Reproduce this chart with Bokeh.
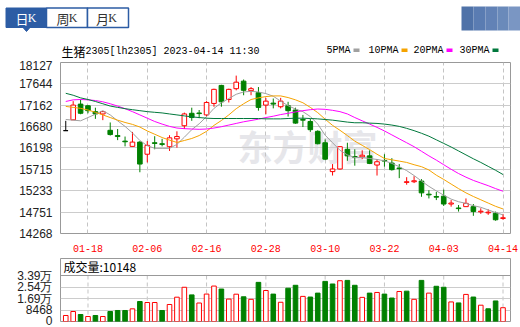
from bokeh.plotting import figure
from bokeh.models import Range1d, FixedTicker, Label, Span
from bokeh.layouts import column
from bokeh.embed import file_html
from bokeh.resources import INLINE
from bokeh.core.properties import value

# ---------------- data ----------------
dates = ["01-13", "01-16", "01-17", "01-18", "01-19", "01-20", "01-30", "01-31",
         "02-01", "02-02", "02-03", "02-06", "02-07", "02-08", "02-09", "02-10",
         "02-13", "02-14", "02-15", "02-16", "02-17", "02-20", "02-21", "02-22",
         "02-23", "02-24", "02-27", "02-28", "03-01", "03-02", "03-03", "03-06",
         "03-07", "03-08", "03-09", "03-10", "03-13", "03-14", "03-15", "03-16",
         "03-17", "03-20", "03-21", "03-22", "03-23", "03-24", "03-27", "03-28",
         "03-29", "03-30", "03-31", "04-03", "04-04", "04-06", "04-07", "04-10",
         "04-11", "04-12", "04-13", "04-14"]

opens = [16589, 16833, 17188, 17151, 17018, 16966, 16597, 16478, 16353, 16234,
         16331, 16057, 16316, 16294, 16227, 16404, 16700, 16981, 16988, 16944,
         17203, 17610, 17292, 17536, 17706, 17491, 17447, 17166, 17210, 17129,
         17151, 17055, 16841, 16796, 16574, 16316, 15665, 15724, 16168, 16005,
         15998, 16020, 15813, 15917, 15857, 15746, 15421, 15436, 15451, 15155,
         15103, 15111, 14933, 14844, 14874, 14874, 14756, 14734, 14726, 14608]
highs = [16811, 17255, 17292, 17166, 17107, 17033, 16774, 16626, 16456, 16560,
         16353, 16353, 16464, 16404, 16486, 16574, 16996, 17107, 17055, 17255,
         17536, 17624, 17536, 17831, 17743, 17573, 17573, 17329, 17314, 17329,
         17240, 17107, 16944, 16855, 16597, 16390, 15835, 16242, 16316, 16168,
         16146, 16146, 15946, 16057, 15968, 15835, 15539, 15562, 15495, 15244,
         15207, 15259, 15022, 14911, 15059, 14933, 14837, 14815, 14763, 14711]
lows = [16589, 16833, 16959, 16981, 16855, 16826, 16478, 16375, 16234, 16234,
        15650, 15872, 16168, 16234, 16131, 16205, 16626, 16811, 16870, 16907,
        17129, 17129, 17225, 17499, 17388, 17388, 17040, 16959, 17092, 17092,
        16907, 16745, 16671, 16560, 16279, 15924, 15576, 15709, 15909, 15798,
        15946, 15835, 15576, 15776, 15687, 15517, 15369, 15406, 15096, 15059,
        15022, 14889, 14874, 14763, 14867, 14667, 14711, 14689, 14556, 14578]
closes = [16589, 17166, 16981, 17040, 16966, 17018, 16501, 16456, 16338, 16331,
          15835, 16257, 16301, 16279, 16427, 16456, 16966, 16885, 16974, 17225,
          17521, 17240, 17521, 17683, 17499, 17536, 17114, 17255, 17188, 17255,
          17040, 16759, 16826, 16611, 16294, 15946, 15724, 16227, 16020, 15991,
          16035, 15850, 15887, 15902, 15709, 15732, 15436, 15458, 15185, 15140,
          15088, 14933, 14955, 14830, 14948, 14763, 14771, 14749, 14578, 14623]

ma5 = [16841, 16826, 16811, 16885, 16959, 17040, 16944, 16811, 16685, 16537,
       16367, 16249, 16190, 16190, 16190, 16279, 16441, 16611, 16744, 16907,
       17092, 17218, 17314, 17410, 17462, 17476, 17462, 17425, 17366, 17255,
       17151, 17077, 17018, 16907, 16737, 16486, 16316, 16146, 16042, 15983,
       15983, 15961, 15939, 15909, 15850, 15776, 15687, 15576, 15451, 15332,
       15229, 15133, 15044, 14985, 14948, 14896, 14859, 14800, 14741, 14689]
ma10 = [17136, 17114, 17092, 17055, 17003, 16944, 16885, 16826, 16774, 16730,
        16671, 16582, 16508, 16434, 16375, 16323, 16367, 16412, 16478, 16574,
        16708, 16818, 16944, 17085, 17196, 17292, 17329, 17358, 17373, 17373,
        17336, 17284, 17218, 17114, 16996, 16848, 16708, 16597, 16478, 16353,
        16257, 16161, 16057, 15961, 15931, 15902, 15872, 15820, 15776, 15702,
        15584, 15488, 15384, 15281, 15185, 15103, 15029, 14955, 14881, 14822]
ma20 = [17247, 17284, 17292, 17284, 17269, 17240, 17196, 17144, 17085, 17018,
        16944, 16870, 16796, 16737, 16685, 16648, 16634, 16626, 16619, 16626,
        16648, 16678, 16715, 16752, 16789, 16818, 16848, 16885, 16915, 16952,
        16981, 17011, 17040, 17062, 17077, 17070, 17048, 17018, 16966, 16885,
        16811, 16737, 16663, 16582, 16493, 16404, 16316, 16227, 16124, 16020,
        15924, 15820, 15717, 15621, 15539, 15466, 15406, 15347, 15281, 15222]
ma30 = [17432, 17388, 17329, 17292, 17247, 17196, 17144, 17114, 17085, 17062,
        17040, 17018, 17003, 16989, 16966, 16944, 16922, 16900, 16885, 16870,
        16863, 16863, 16863, 16863, 16863, 16863, 16863, 16855, 16855, 16855,
        16863, 16870, 16870, 16863, 16855, 16841, 16826, 16804, 16782, 16767,
        16767, 16759, 16752, 16737, 16715, 16685, 16641, 16589, 16530, 16464,
        16382, 16301, 16220, 16131, 16042, 15954, 15872, 15783, 15695, 15599]

volume = [4420, 7360, 5150, 3680, 4420, 3680, 7360, 8100, 8100, 9330,
          14720, 13990, 13990, 8100, 12520, 17900, 25200, 19600, 13600, 20200,
          26100, 23900, 16500, 20100, 18200, 16330, 28820, 22820, 20180, 14170,
          24500, 26660, 18500, 18010, 20900, 29540, 27620, 30020, 30260, 26660,
          17770, 20900, 21380, 20180, 17290, 22100, 22340, 16330, 30260, 20900,
          25940, 25220, 14410, 13690, 19940, 18010, 12010, 9370, 15130, 10148]
# volume bar colour: "R" = rose vs. previous close, "G" = fell
vol_dir = list("RRGRGRGGGRGRRGRRRGRRRGRRGRGRGRGGRGGGGRGGRGRGGRGRGRGGRGRGRGGR")

price_ticks = [14268, 14751, 15233, 15715, 16198, 16680, 17162, 17644, 18127]
vol_ticks = [0, 8468, 16936, 25404, 33872]
vol_tick_labels = ["0", "8468", "1.69万", "2.54万", "3.39万"]
ma_names = ["5PMA", "10PMA", "20PMA", "30PMA"]
title_name = "生猪"
title_rest = "2305[lh2305] 2023-04-14 11:30"
tabs = ["日", "周", "月"]

# ---------------- styles ----------------
RED = "#ff0000"
GREEN = "#008000"
MA_COLORS = ["#a0a0a0", "#f5a300", "#ff00ff", "#00783c"]
BLUE = "#2c5ca4"
MONO = "Liberation Mono"
CJK = "Noto Sans CJK SC"

n = len(dates)
idx = list(range(n))
tick_idx = list(range(3, n, 8))
x_range = Range1d(-0.71, 60.01)

# ---------------- header (page-pixel coordinates) ----------------
HH = 60
hdr = figure(width=520, height=HH, x_range=Range1d(0, 520), y_range=Range1d(HH, 0),
             toolbar_location=None, output_backend="svg", min_border=0,
             min_border_left=0, min_border_right=0, min_border_top=0, min_border_bottom=0,
             x_axis_location=None, y_axis_location=None, outline_line_color=None)
hdr.grid.visible = False
hdr.quad(left=[5.5], right=[46], top=[7.5], bottom=[27], fill_color=BLUE, line_color=BLUE)
hdr.quad(left=[46, 87], right=[87, 128], top=[7.5, 7.5], bottom=[27, 27],
         fill_color="white", line_color=BLUE, line_width=1.5)
hdr.patch([22.5, 29.5, 26], [27, 27, 31], color=BLUE)
tab_x = [21.5, 62.5, 102]
for k, t in enumerate(tabs):
    col = "white" if k == 0 else "#333333"
    hdr.text(x=[tab_x[k]], y=[17.5], text=[t], text_color=col, text_font=value(CJK),
             text_font_size="13px", text_align="center", text_baseline="middle")
    hdr.text(x=[tab_x[k] + 10], y=[17.5], text=["K"], text_color=col,
             text_font=value("Liberation Serif"), text_font_size="12px",
             text_align="center", text_baseline="middle")
corner = ["#4f72a8", "#5a7cb2", "#6282b6", "#6a8aba", "#7a96c3"]
cx = [461, 473, 485, 497, 508, 520]
hdr.quad(left=cx[:-1], right=cx[1:], top=[6] * 5, bottom=[30] * 5,
         fill_color=corner, line_color=None)
hdr.text(x=[61], y=[50.5], text=[title_name], text_font=value(CJK), text_font_size="12px",
         text_baseline="middle", text_color="#000000")
hdr.text(x=[85], y=[50.5], text=[title_rest], text_font=value(MONO), text_font_size="10px",
         text_baseline="middle", text_color="#000000")
leg_x = [326, 368, 413, 459]
for k, name in enumerate(ma_names):
    hdr.text(x=[leg_x[k]], y=[50], text=[name], text_font=value(MONO), text_font_size="10px",
             text_baseline="middle", text_color="#000000")
    sx = leg_x[k] + 6 * len(name) + 3
    hdr.quad(left=[sx], right=[sx + 6], top=[48], bottom=[51.5], fill_color=MA_COLORS[k],
             line_color=None)

# ---------------- main price chart ----------------
p = figure(width=520, height=194, x_range=x_range, y_range=Range1d(price_ticks[0], price_ticks[-1]),
           toolbar_location=None, output_backend="svg",
           min_border_left=60, min_border_right=10, min_border_top=2, min_border_bottom=18)
p.outline_line_color = "#999999"
p.outline_line_width = 1
p.ygrid.ticker = FixedTicker(ticks=price_ticks)
p.ygrid.grid_line_color = "#cccccc"
p.xgrid.ticker = FixedTicker(ticks=tick_idx)
p.xgrid.grid_line_color = "#c4c4c4"
p.xgrid.grid_line_dash = "4 3"

p.yaxis.ticker = FixedTicker(ticks=price_ticks)
p.yaxis.major_label_overrides = {t: str(t) for t in price_ticks}
p.yaxis.axis_line_color = None
p.yaxis.major_tick_line_color = None
p.yaxis.minor_tick_line_color = None
p.yaxis.major_label_standoff = 2
p.yaxis.major_label_text_font = "Liberation Sans"
p.yaxis.major_label_text_font_size = "12px"
p.yaxis.major_label_text_color = "#222222"

p.xaxis.ticker = FixedTicker(ticks=tick_idx)
p.xaxis.major_label_overrides = {i: dates[i] for i in tick_idx}
p.xaxis.axis_line_color = None
p.xaxis.major_tick_line_color = None
p.xaxis.minor_tick_line_color = None
p.xaxis.major_label_standoff = 5
p.xaxis.major_label_text_font = MONO
p.xaxis.major_label_text_font_size = "10px"
p.xaxis.major_label_text_color = RED

p.add_layout(Label(x=177, y=88, x_units="screen", y_units="screen", text="东方财富",
                   text_font=CJK, text_font_size="35px", text_font_style="bold",
                   text_color="#e6e6ea", text_baseline="middle", level="image"))

cc = [RED if c > o else (GREEN if c < o else "#000000") for o, c in zip(opens, closes)]
fill = ["white" if c > o else (GREEN if c < o else "#000000") for o, c in zip(opens, closes)]
tops = [max(o, c) for o, c in zip(opens, closes)]
bots = [min(o, c) for o, c in zip(opens, closes)]
p.segment(x0=idx, y0=lows, x1=idx, y1=highs, line_color=cc, line_width=1)
p.vbar(x=idx, width=0.62, top=tops, bottom=bots, fill_color=fill, line_color=cc, line_width=1)
for k, ma in enumerate([ma5, ma10, ma20, ma30]):
    p.line(idx, ma, line_color=MA_COLORS[k], line_width=1)

# ---------------- volume chart ----------------
v = figure(width=520, height=73, x_range=x_range, y_range=Range1d(0, vol_ticks[-1] * 63 / 46),
           toolbar_location=None, output_backend="svg", x_axis_location=None,
           min_border_left=60, min_border_right=10, min_border_top=4, min_border_bottom=6)
v.outline_line_color = "#999999"
v.outline_line_width = 1
v.xgrid.visible = False
v.ygrid.ticker = FixedTicker(ticks=vol_ticks[1:-1])
v.ygrid.grid_line_color = "#cccccc"
v.segment(x0=tick_idx, y0=[0] * len(tick_idx), x1=tick_idx, y1=[vol_ticks[-1]] * len(tick_idx),
          line_color="#c4c4c4", line_dash="4 3", level="underlay")
v.add_layout(Span(location=vol_ticks[-1], dimension="width", line_color="#999999", line_width=1))
v.yaxis.ticker = FixedTicker(ticks=vol_ticks)
v.yaxis.major_label_overrides = {t: l for t, l in zip(vol_ticks, vol_tick_labels)}
v.yaxis.axis_line_color = None
v.yaxis.major_tick_line_color = None
v.yaxis.minor_tick_line_color = None
v.yaxis.major_label_standoff = 2
v.yaxis.major_label_text_font = "Liberation Sans"
v.yaxis.major_label_text_font_size = "12px"
v.yaxis.major_label_text_color = "#222222"

vc = [RED if d == "R" else GREEN for d in vol_dir]
vf = ["white" if d == "R" else GREEN for d in vol_dir]
v.vbar(x=idx, width=0.62, top=volume, bottom=0, fill_color=vf, line_color=vc, line_width=1)
v.add_layout(Label(x=3, y=55, x_units="screen", y_units="screen",
                   text="成交量:" + str(volume[-1]), text_font=CJK, text_font_size="12px",
                   text_baseline="middle", text_color="#000000"))

layout = column(hdr, column(p, v, spacing=0), spacing=0)
open("out.html", "w").write(file_html(layout, INLINE))
